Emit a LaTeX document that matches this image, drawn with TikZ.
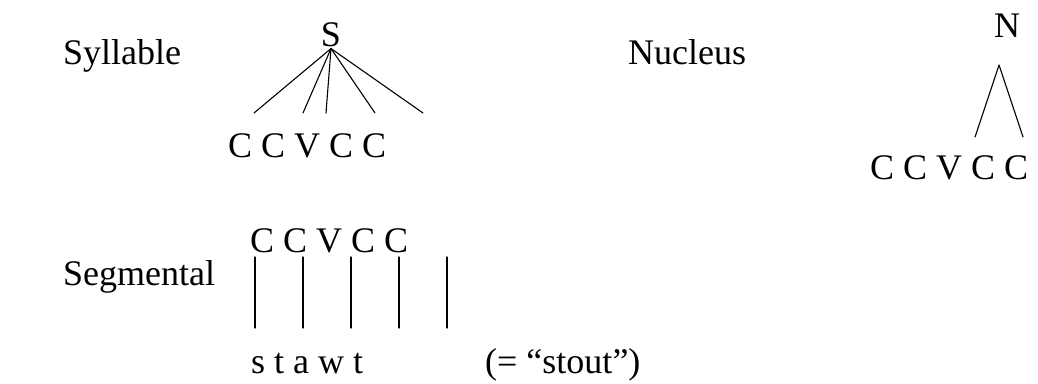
\documentclass[tikz,border=0pt]{standalone}
\usepackage{fontspec}
\setmainfont{Liberation Serif}
\usetikzlibrary{positioning}

\begin{document}
\begin{tikzpicture}[line cap=round,line join=round,x=1pt,y=-1pt, txt/.style={inner sep=0pt, anchor=base west, font=\fontsize{36}{40}\selectfont}, br/.style={line width=1.1pt}]
                    \useasboundingbox (0,0) rectangle (1038,383);

                    % syllable
                    \node[txt] (syl) at (63,64) {Syllable};
                    \node[txt, anchor=base, inner ysep=2pt] (S) at (331,46) {S};
                    \foreach \x [count=\i] in {254,303,326,375,423}
                        \coordinate (s\i) at (\x,113);
                    \foreach \i in {1,...,5}
                        \draw [br] (S.south) -- (s\i);
                    \node[txt] (cv1) at (228,157) {C C V C C};

                    % nucleus
                    \node[txt] (nuc) at (628,64) {Nucleus};
                    \node[txt, anchor=base] (N) at (1007,37) {N};
                    \coordinate (n0) at (999,65);
                    \coordinate (n1) at (975,137);
                    \coordinate (n2) at (1023,137);
                    \draw [br] (n1) -- (n0) -- (n2);
                    \node[txt] (cv2) at (870,179) {C C V C C};

                    % segmental
                    \node[txt] (seg) at (63,285) {Segmental};
                    \node[txt] (cv3) at (250,252) {C C V C C};
                    \foreach \x [count=\i] in {255,303,351,399,447} {
                        \coordinate (t\i) at (\x,257);
                        \coordinate (b\i) at (\x,328);
                        \draw [br] (t\i) -- (b\i);
                    }
                    \node[txt] (stawt) at (251,373) {s t a w t};
                    \node[txt] (gloss) at (485,373) {(= “stout”)};
                \end{tikzpicture}
\end{document}
